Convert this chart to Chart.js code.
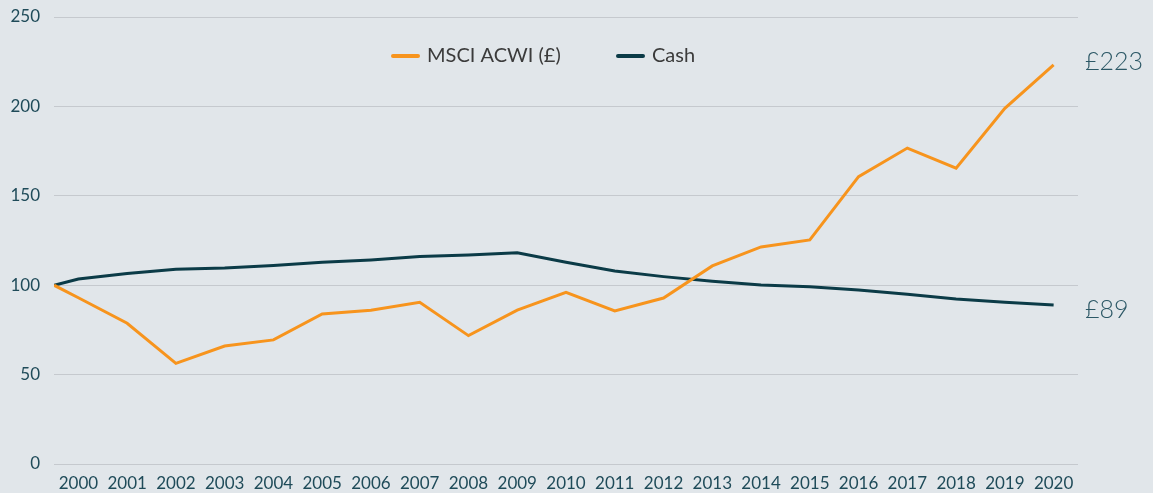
<!DOCTYPE html>
<html>
<head>
<meta charset="utf-8">
<script src="https://cdn.jsdelivr.net/npm/chart.js@4"></script>
<style>
  body { margin: 0; background: #e1e6ea; }
  canvas { display: block; }
</style>
</head>
<body>
<canvas id="chart" width="1153" height="493"></canvas>
<script>
// x-axis tick labels (years)
const years = [2000, 2001, 2002, 2003, 2004, 2005, 2006, 2007, 2008, 2009, 2010,
  2011, 2012, 2013, 2014, 2015, 2016, 2017, 2018, 2019, 2020];
// data starts half a year before the first label
const startX = 1999.5;
const xPoints = [startX].concat(years);

// indexed values (start = 100)
const msciValues = [100, 93, 78.7, 56.3, 66, 69.4, 83.9, 86, 90.4, 71.8, 86.1,
  96, 85.6, 92.8, 110.8, 121.4, 125.3, 160.7, 176.7, 165.5, 198.9, 223.2];
const cashValues = [100, 103.5, 106.6, 108.9, 109.6, 111, 112.8, 114.1, 116, 116.9, 118.2,
  112.8, 108, 104.8, 102.2, 100.1, 99.2, 97.3, 94.9, 92.3, 90.4, 88.9];

const yTicks = [0, 50, 100, 150, 200, 250];
const seriesNames = ['MSCI ACWI (£)', 'Cash'];
const endLabels = ['£223', '£89'];

const ORANGE = '#f7941d';
const TEAL = '#0b3b47';
const FONT = 'Lato, "Open Sans", sans-serif';

function toPoints(values) {
  return values.map((v, i) => ({ x: xPoints[i], y: v }));
}

// Legend drawn inside the plot area, plus the end-of-line value labels
const overlayPlugin = {
  id: 'overlay',
  afterDraw(chart) {
    const ctx = chart.ctx;
    const y = 56;
    const items = [
      { x: 391, label: seriesNames[0], color: ORANGE },
      { x: 616, label: seriesNames[1], color: TEAL }
    ];
    ctx.save();
    ctx.font = '20px ' + FONT;
    ctx.textBaseline = 'middle';
    items.forEach(it => {
      ctx.strokeStyle = it.color;
      ctx.lineWidth = 4;
      ctx.lineCap = 'round';
      ctx.beginPath();
      ctx.moveTo(it.x + 2, y);
      ctx.lineTo(it.x + 27, y);
      ctx.stroke();
      ctx.fillStyle = '#3b3b3b';
      ctx.fillText(it.label, it.x + 36, y);
    });

    // end labels
    const ys = chart.scales.y;
    ctx.font = '300 25px ' + FONT;
    ctx.fillStyle = '#2c5866';
    ctx.textAlign = 'left';
    ctx.fillText(endLabels[0], 1085, ys.getPixelForValue(msciValues[msciValues.length - 1]) - 3);
    ctx.fillText(endLabels[1], 1085, ys.getPixelForValue(cashValues[cashValues.length - 1]) + 5);
    ctx.restore();
  }
};

new Chart(document.getElementById('chart'), {
  type: 'line',
  data: {
    datasets: [
      {
        label: seriesNames[0],
        data: toPoints(msciValues),
        borderColor: ORANGE,
        borderWidth: 3,
        pointRadius: 0,
        tension: 0
      },
      {
        label: seriesNames[1],
        data: toPoints(cashValues),
        borderColor: TEAL,
        borderWidth: 3,
        pointRadius: 0,
        tension: 0
      }
    ]
  },
  options: {
    responsive: false,
    animation: false,
    layout: { padding: { top: 17, right: 75, left: 0, bottom: 0 } },
    scales: {
      x: {
        type: 'linear',
        min: startX,
        max: 2020.5,
        afterBuildTicks: scale => { scale.ticks = years.map(v => ({ value: v })); },
        afterFit: scale => { scale.height = 29; scale.paddingLeft = 0; scale.paddingRight = 0; },
        grid: { display: false, drawTicks: false },
        border: { display: false },
        ticks: {
          autoSkip: false,
          maxRotation: 0,
          padding: 9,
          color: '#1f4b59',
          font: { family: FONT, size: 17 },
          callback: v => String(v)
        }
      },
      y: {
        min: 0,
        max: 250,
        afterBuildTicks: scale => { scale.ticks = yTicks.map(v => ({ value: v })); },
        afterFit: scale => { scale.width = 54; scale.paddingTop = 0; scale.paddingBottom = 0; },
        grid: { color: '#c5c9ce', lineWidth: 1, drawTicks: false },
        border: { display: false },
        ticks: {
          padding: 14,
          color: '#1f4b59',
          font: { family: FONT, size: 17 }
        }
      }
    },
    plugins: {
      legend: { display: false },
      tooltip: { enabled: false }
    }
  },
  plugins: [overlayPlugin]
});
</script>
</body>
</html>
